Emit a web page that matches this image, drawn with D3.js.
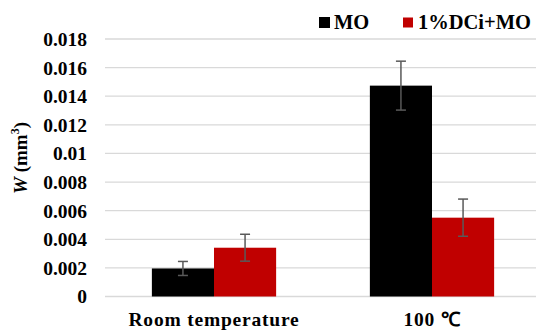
<!DOCTYPE html>
<html>
<head>
<meta charset="utf-8">
<script src="https://cdn.jsdelivr.net/npm/d3@7/dist/d3.min.js"></script>
<style>
  html, body { margin: 0; padding: 0; background: #fff; }
  svg { display: block; }
  text { font-family: "Liberation Serif", "Times New Roman", serif; font-weight: bold; fill: #000; }
</style>
</head>
<body>
<svg id="chart" width="536" height="330"></svg>
<script>
// Wear volume W (mm³) by test temperature
const categories = ["Room temperature", "100 ℃"];
const seriesNames = ["MO", "1%DCi+MO"];
const seriesColors = ["#000000", "#c00000"];
const moValues = [0.00196, 0.01474];
const moErrors = [0.00049, 0.00171];
const dciValues = [0.00341, 0.00551];
const dciErrors = [0.00094, 0.00130];
const yTicks = [0, 0.002, 0.004, 0.006, 0.008, 0.01, 0.012, 0.014, 0.016, 0.018];
const yTickLabels = ["0", "0.002", "0.004", "0.006", "0.008", "0.01", "0.012", "0.014", "0.016", "0.018"];

const seriesValues = [moValues, dciValues];
const seriesErrors = [moErrors, dciErrors];

const svg = d3.select("#chart");
const margin = { left: 105, right: -5, top: 39, bottom: 33.5 };
const W = 536, H = 330;
const serif = "'Liberation Serif', 'Times New Roman', serif";

const x = d3.scaleBand().domain(categories)
  .range([margin.left, W - margin.right])
  .paddingInner(0.43).paddingOuter(0.215);
const xs = d3.scaleBand().domain(seriesNames).range([0, x.bandwidth()]);
const y = d3.scaleLinear().domain([0, 0.018]).range([H - margin.bottom, margin.top]);

// gridlines
svg.append("g").selectAll("line").data(yTicks).join("line")
  .attr("x1", margin.left).attr("x2", W)
  .attr("y1", d => y(d)).attr("y2", d => y(d))
  .attr("stroke", "#d9d9d9").attr("stroke-width", 1.3);

// y axis tick labels
const yAxis = d3.axisLeft(y).tickValues(yTicks)
  .tickFormat((d, i) => yTickLabels[i]).tickSize(0).tickPadding(0);
const ya = svg.append("g").attr("transform", `translate(87,0)`).call(yAxis);
ya.select(".domain").remove();
ya.selectAll("text").attr("font-size", 19.5).attr("dy", "0.33em")
  .style("font-family", serif).style("font-weight", "bold");

// bars
seriesNames.forEach((s, si) => {
  const g = svg.append("g");
  g.selectAll("rect").data(categories).join("rect")
    .attr("x", c => x(c) + xs(s))
    .attr("width", xs.bandwidth())
    .attr("y", (c, i) => y(seriesValues[si][i]))
    .attr("height", (c, i) => y(0) - y(seriesValues[si][i]))
    .attr("fill", seriesColors[si]);
  // error bars
  categories.forEach((c, i) => {
    const cx = x(c) + xs(s) + xs.bandwidth() / 2;
    const v = seriesValues[si][i], e = seriesErrors[si][i];
    const eg = g.append("g").attr("stroke", "#595959").attr("stroke-width", 1.5);
    eg.append("line").attr("x1", cx).attr("x2", cx).attr("y1", y(v + e)).attr("y2", y(v - e));
    eg.append("line").attr("x1", cx - 5).attr("x2", cx + 5).attr("y1", y(v + e)).attr("y2", y(v + e));
    eg.append("line").attr("x1", cx - 5).attr("x2", cx + 5).attr("y1", y(v - e)).attr("y2", y(v - e));
  });
});

// category labels
const xAxis = d3.axisBottom(x).tickSize(0).tickPadding(0);
const xa = svg.append("g").attr("transform", `translate(0,${H - margin.bottom})`).call(xAxis);
xa.select(".domain").remove();
xa.selectAll("text").attr("font-size", 19.5).attr("dy", 0).attr("y", 29.5)
  .style("font-family", serif).style("font-weight", "bold").style("letter-spacing", "0.8px");

// y axis title
const yt = svg.append("text")
  .attr("transform", `translate(27,158) rotate(-90)`)
  .attr("text-anchor", "middle").attr("font-size", 19);
yt.append("tspan").attr("font-style", "italic").text("W");
yt.append("tspan").text(" (mm");
yt.append("tspan").attr("font-size", 12).attr("dy", -8).text("3");
yt.append("tspan").attr("dy", 8).text(")");

// legend
const legendX = [319, 403];
const legendSize = [11, 10];
seriesNames.forEach((s, i) => {
  const lg = svg.append("g").attr("transform", `translate(${legendX[i]},22.5)`);
  lg.append("rect").attr("x", 0).attr("y", -legendSize[i] / 2)
    .attr("width", legendSize[i]).attr("height", legendSize[i]).attr("fill", seriesColors[i]);
  lg.append("text").attr("x", 15).attr("y", 0).attr("dy", "0.34em").attr("font-size", 20.5).text(s);
});
</script>
</body>
</html>
